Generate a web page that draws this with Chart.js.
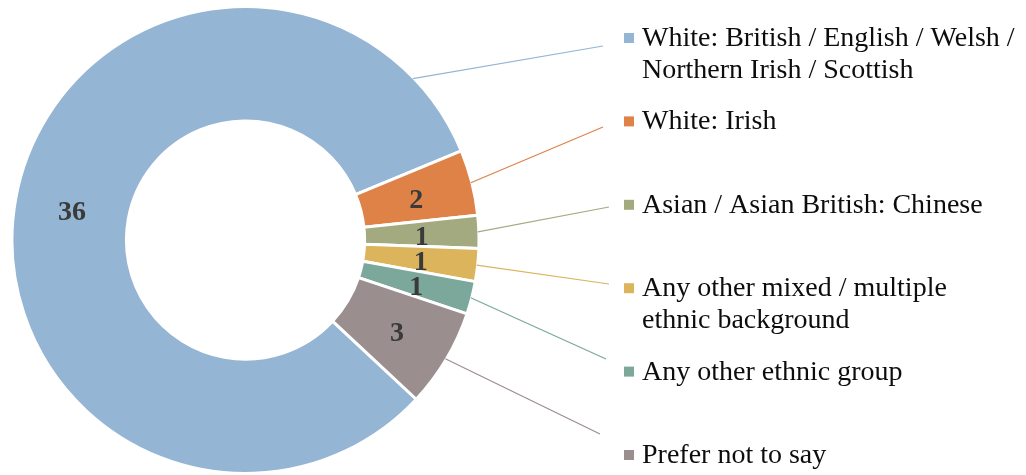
<!DOCTYPE html>
<html>
<head>
<meta charset="utf-8">
<script src="https://cdn.jsdelivr.net/npm/chart.js@4/dist/chart.umd.min.js"></script>
<style>
  html, body { margin: 0; padding: 0; background: #ffffff; }
  #wrap { width: 1026px; height: 475px; position: relative; }
</style>
</head>
<body>
<div id="wrap"><canvas id="c" width="1026" height="475"></canvas></div>
<script>
// ---- data ----
const categories = [
  "White: British / English / Welsh / Northern Irish / Scottish",
  "White: Irish",
  "Asian / Asian British: Chinese",
  "Any other mixed / multiple ethnic background",
  "Any other ethnic group",
  "Prefer not to say"
];
const counts = [36, 2, 1, 1, 1, 3];
const sliceColors = ["#94B5D3", "#DE8248", "#A4AA80", "#DBB45C", "#7BA89B", "#9A8F8E"];

// ---- layout / style (not data) ----
const SERIF = "'Liberation Serif', 'Times New Roman', serif";
const legendX = 624;           // square left
const legendTextX = 642;
const legendFirstBaseline = 46;
const legendStep = 83.4;
const legendLineHeight = 32;
const legendWrap = 375;
const leaderEnds = [[603, 46], [603, 127], [609, 207], [609, 284], [606, 359], [600, 434]];
const leaderFrac = [0.927, 0.5, 0.5, 0.5, 0.5, 0.5];

function wrapText(ctx, text, maxW) {
  const words = text.split(' ');
  const lines = [];
  let cur = '';
  for (const w of words) {
    const t = cur ? cur + ' ' + w : w;
    if (ctx.measureText(t).width > maxW && cur) { lines.push(cur); cur = w; }
    else cur = t;
  }
  if (cur) lines.push(cur);
  return lines;
}

const decorPlugin = {
  id: 'decor',
  afterDatasetsDraw(chart) {
    const ctx = chart.ctx;
    const meta = chart.getDatasetMeta(0);
    ctx.save();
    // leader lines
    meta.data.forEach((arc, i) => {
      const p = arc.getProps(['x', 'y', 'startAngle', 'endAngle', 'outerRadius']);
      const a = p.startAngle + leaderFrac[i] * (p.endAngle - p.startAngle);
      const sx = p.x + Math.cos(a) * (p.outerRadius - 1);
      const sy = p.y + Math.sin(a) * (p.outerRadius - 1);
      ctx.beginPath();
      ctx.moveTo(sx, sy);
      ctx.lineTo(leaderEnds[i][0], leaderEnds[i][1]);
      ctx.strokeStyle = sliceColors[i];
      ctx.lineWidth = 1.2;
      ctx.stroke();
    });
    // value labels
    ctx.font = "bold 28px " + SERIF;
    ctx.fillStyle = "#3a3a3a";
    ctx.textAlign = 'center';
    ctx.textBaseline = 'middle';
    meta.data.forEach((arc, i) => {
      const pos = arc.tooltipPosition();
      ctx.fillText(String(counts[i]), pos.x, pos.y + 4);
    });
    // legend
    ctx.font = "28px " + SERIF;
    ctx.textAlign = 'left';
    ctx.textBaseline = 'alphabetic';
    categories.forEach((name, i) => {
      const base = legendFirstBaseline + legendStep * i;
      ctx.fillStyle = sliceColors[i];
      ctx.fillRect(legendX, base - 13, 10, 10);
      ctx.fillStyle = "#0d0d0d";
      const lines = wrapText(ctx, name, legendWrap);
      lines.forEach((ln, j) => ctx.fillText(ln, legendTextX, base + j * legendLineHeight));
    });
    ctx.restore();
  }
};

new Chart(document.getElementById('c'), {
  type: 'doughnut',
  data: {
    labels: categories,
    datasets: [{
      data: counts,
      backgroundColor: sliceColors,
      borderColor: '#ffffff',
      borderWidth: 3,
      hoverOffset: 0,
      offset: 0
    }]
  },
  options: {
    responsive: false,
    animation: false,
    cutout: '51%',
    rotation: 133,
    layout: { padding: { left: 10, top: 5, bottom: 0, right: 545 } },
    plugins: { legend: { display: false }, tooltip: { enabled: false } },
    events: []
  },
  plugins: [decorPlugin]
});
</script>
</body>
</html>
